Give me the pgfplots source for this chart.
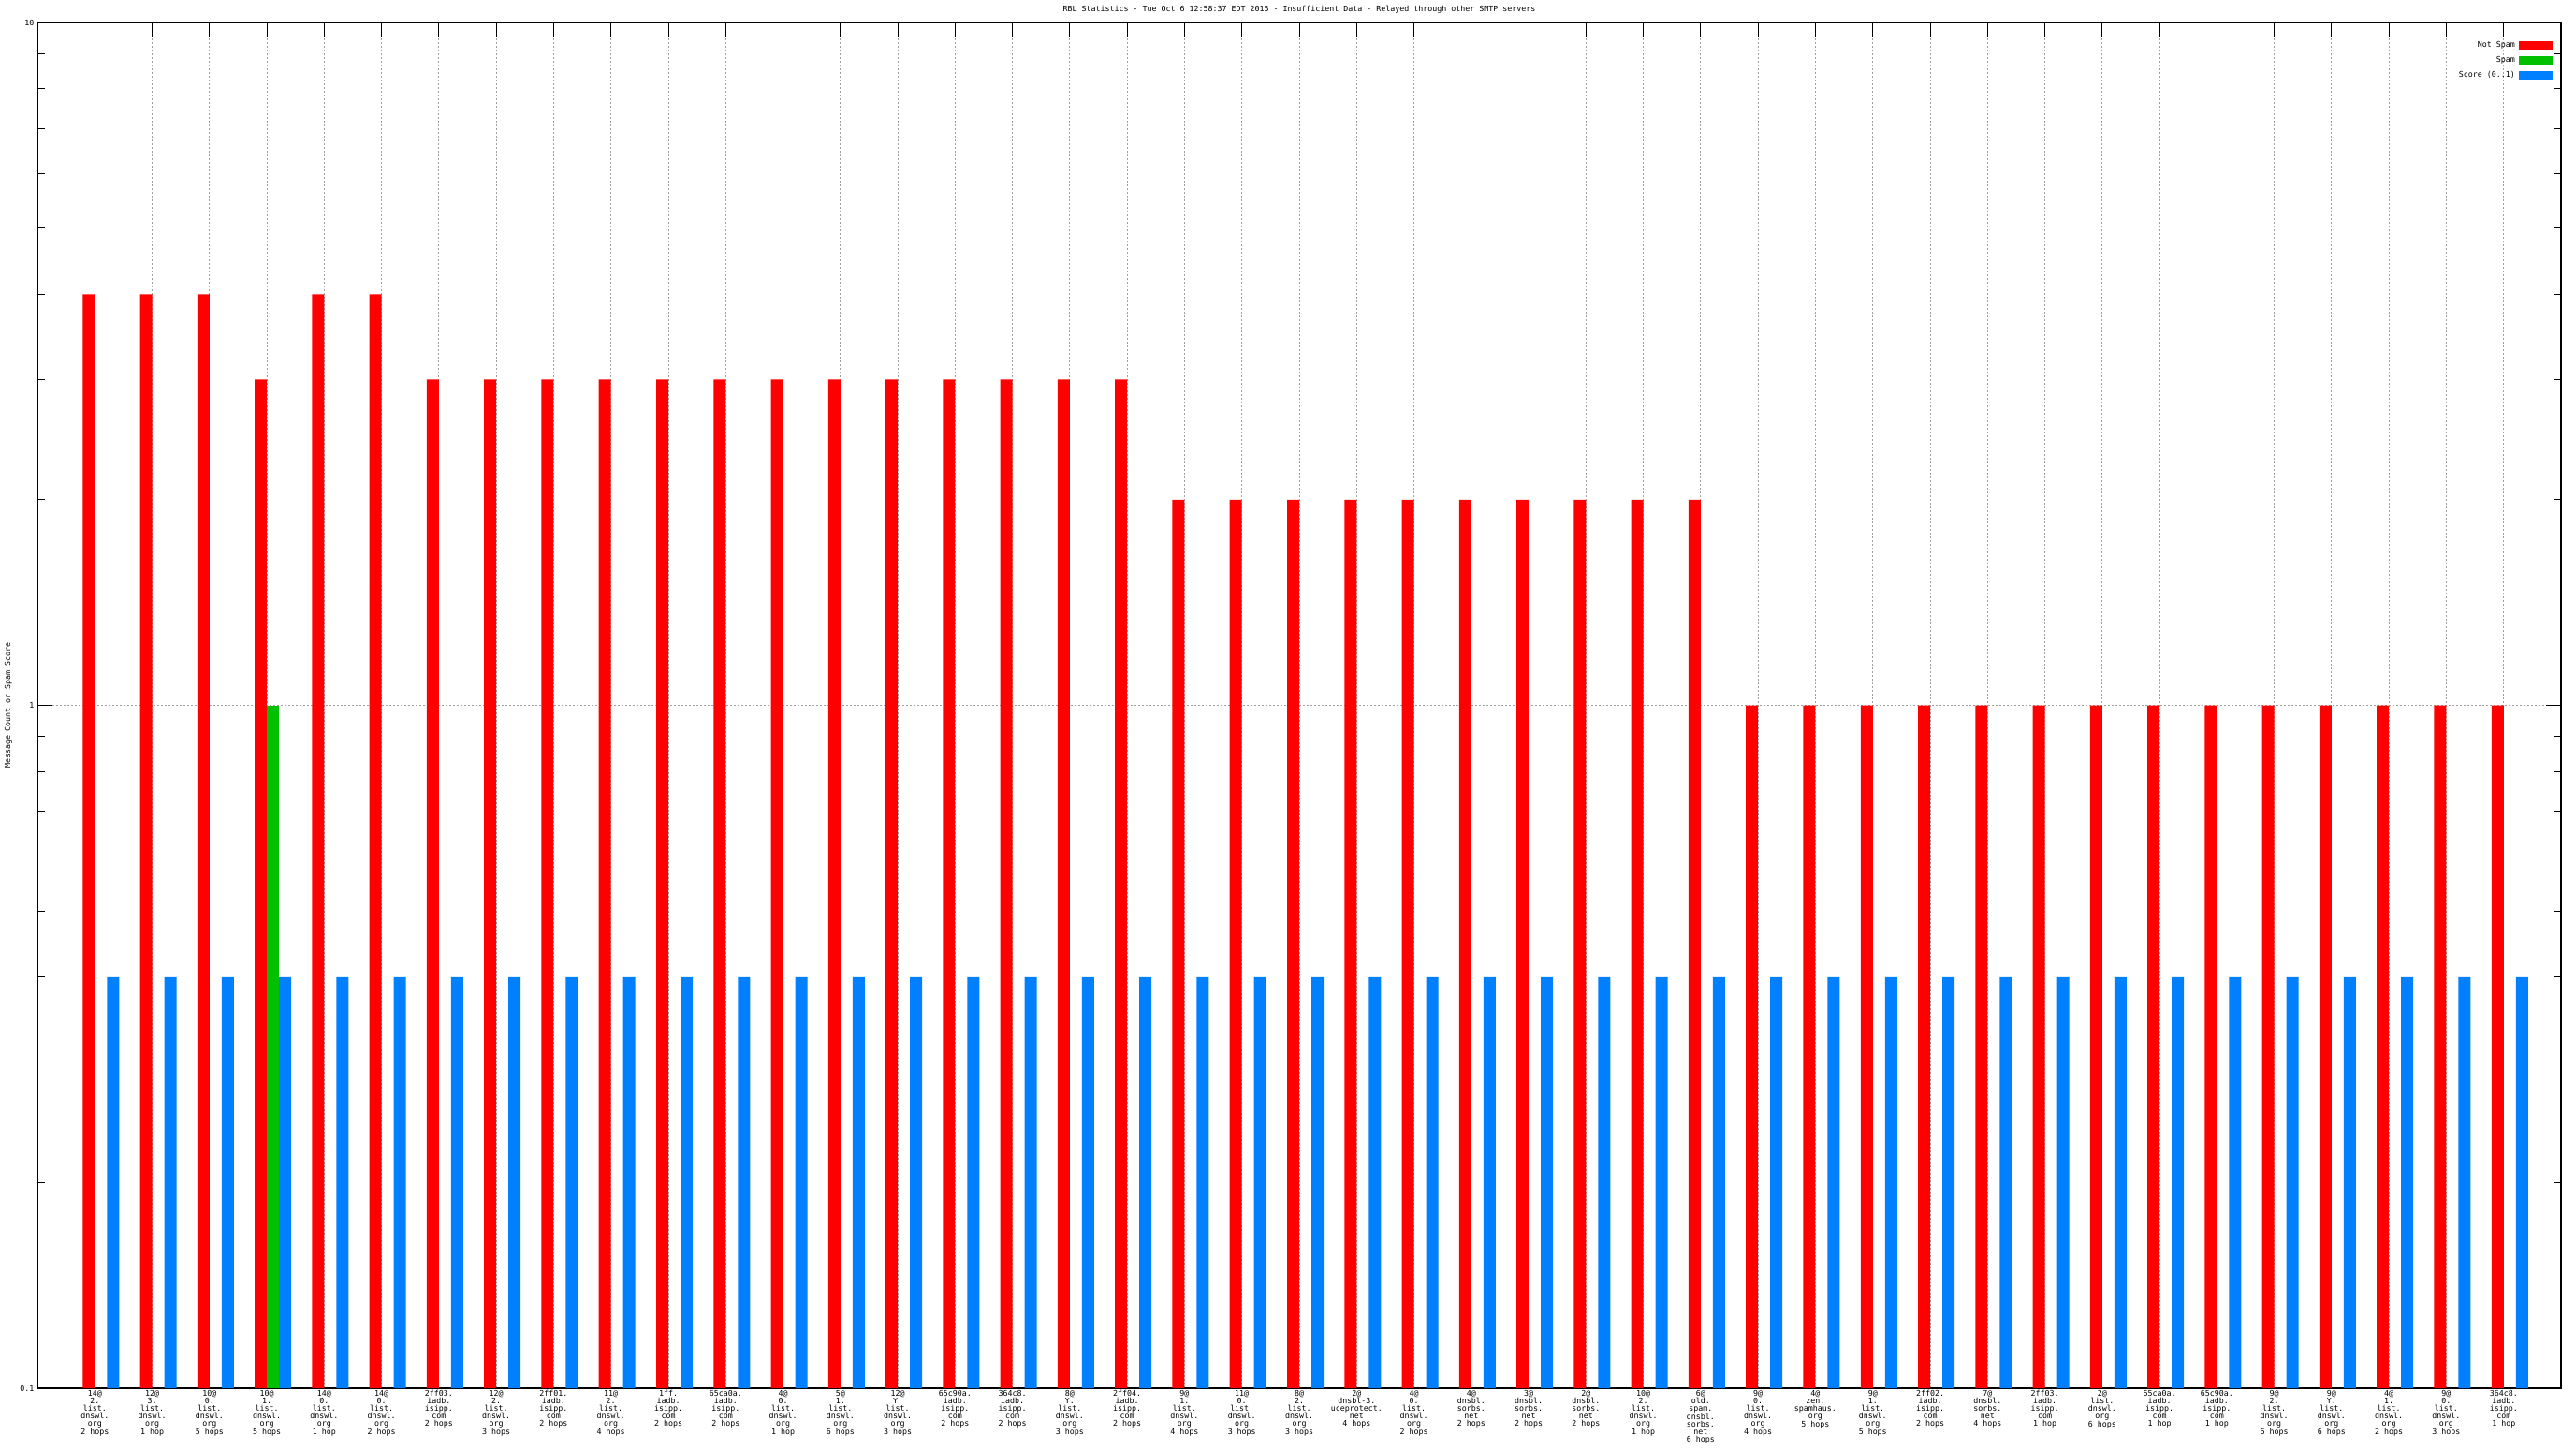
\documentclass[border=0pt]{standalone}
\usepackage{fontspec}
\setmainfont{DejaVu Sans Mono}
\usepackage{pgfplots}
\usepackage{pgfplotstable}
\pgfplotsset{compat=1.18}
\definecolor{nsred}{HTML}{FF0000}
\definecolor{spgreen}{HTML}{00C000}
\definecolor{scblue}{HTML}{0080FF}
\definecolor{gridgray}{HTML}{A0A0A0}
\newcommand{\gp}{\fontsize{8.3}{8}\selectfont}

% x = category index, ns = not spam count, sc = score (0..1)
\pgfplotstableread{
x ns sc
1 4 0.4
2 4 0.4
3 4 0.4
4 3 0.4
5 4 0.4
6 4 0.4
7 3 0.4
8 3 0.4
9 3 0.4
10 3 0.4
11 3 0.4
12 3 0.4
13 3 0.4
14 3 0.4
15 3 0.4
16 3 0.4
17 3 0.4
18 3 0.4
19 3 0.4
20 2 0.4
21 2 0.4
22 2 0.4
23 2 0.4
24 2 0.4
25 2 0.4
26 2 0.4
27 2 0.4
28 2 0.4
29 2 0.4
30 1 0.4
31 1 0.4
32 1 0.4
33 1 0.4
34 1 0.4
35 1 0.4
36 1 0.4
37 1 0.4
38 1 0.4
39 1 0.4
40 1 0.4
41 1 0.4
42 1 0.4
43 1 0.4
}\rbl

\begin{document}
\begin{tikzpicture}
\begin{axis}[
    scale only axis,
    width=2696pt, height=1459pt,
    ybar,
    bar width=13pt,
    ymode=log,
    log origin=infty,
    xmin=0, xmax=44,
    ymin=0.1, ymax=10,
    axis line style={line width=1.2pt},
    font=\gp,
    /pgf/number format/assume math mode=true,
    title={RBL Statistics - Tue Oct  6 12:58:37 EDT 2015 - Insufficient Data - Relayed through other SMTP servers},
    every axis title/.style={at={(axis description cs:0.5,1)}, anchor=center, yshift=13.5pt, font=\gp},
    ylabel={Message Count or Spam Score},
    every axis y label/.style={at={(axis description cs:-0.0115,0.5)}, rotate=90, anchor=center, font=\gp},
    ytick={0.1,1,10},
    yticklabels={0.1,1,10},
    minor ytick={0.2,0.3,0.4,0.5,0.6,0.7,0.8,0.9,2,3,4,5,6,7,8,9},
    xtick={1,...,43},
    xtick pos=right,
    xticklabel pos=left,
    xticklabels={
      {14@\\2.\\list.\\dnswl.\\org\\2 hops},
      {12@\\3.\\list.\\dnswl.\\org\\1 hop},
      {10@\\0.\\list.\\dnswl.\\org\\5 hops},
      {10@\\1.\\list.\\dnswl.\\org\\5 hops},
      {14@\\0.\\list.\\dnswl.\\org\\1 hop},
      {14@\\0.\\list.\\dnswl.\\org\\2 hops},
      {2ff03.\\iadb.\\isipp.\\com\\2 hops},
      {12@\\2.\\list.\\dnswl.\\org\\3 hops},
      {2ff01.\\iadb.\\isipp.\\com\\2 hops},
      {11@\\2.\\list.\\dnswl.\\org\\4 hops},
      {1ff.\\iadb.\\isipp.\\com\\2 hops},
      {65ca0a.\\iadb.\\isipp.\\com\\2 hops},
      {4@\\0.\\list.\\dnswl.\\org\\1 hop},
      {5@\\1.\\list.\\dnswl.\\org\\6 hops},
      {12@\\Y.\\list.\\dnswl.\\org\\3 hops},
      {65c90a.\\iadb.\\isipp.\\com\\2 hops},
      {364c8.\\iadb.\\isipp.\\com\\2 hops},
      {8@\\Y.\\list.\\dnswl.\\org\\3 hops},
      {2ff04.\\iadb.\\isipp.\\com\\2 hops},
      {9@\\1.\\list.\\dnswl.\\org\\4 hops},
      {11@\\0.\\list.\\dnswl.\\org\\3 hops},
      {8@\\2.\\list.\\dnswl.\\org\\3 hops},
      {2@\\dnsbl-3.\\uceprotect.\\net\\4 hops},
      {4@\\0.\\list.\\dnswl.\\org\\2 hops},
      {4@\\dnsbl.\\sorbs.\\net\\2 hops},
      {3@\\dnsbl.\\sorbs.\\net\\2 hops},
      {2@\\dnsbl.\\sorbs.\\net\\2 hops},
      {10@\\2.\\list.\\dnswl.\\org\\1 hop},
      {6@\\old.\\spam.\\dnsbl.\\sorbs.\\net\\6 hops},
      {9@\\0.\\list.\\dnswl.\\org\\4 hops},
      {4@\\zen.\\spamhaus.\\org\\5 hops},
      {9@\\1.\\list.\\dnswl.\\org\\5 hops},
      {2ff02.\\iadb.\\isipp.\\com\\2 hops},
      {7@\\dnsbl.\\sorbs.\\net\\4 hops},
      {2ff03.\\iadb.\\isipp.\\com\\1 hop},
      {2@\\list.\\dnswl.\\org\\6 hops},
      {65ca0a.\\iadb.\\isipp.\\com\\1 hop},
      {65c90a.\\iadb.\\isipp.\\com\\1 hop},
      {9@\\2.\\list.\\dnswl.\\org\\6 hops},
      {9@\\Y.\\list.\\dnswl.\\org\\6 hops},
      {4@\\1.\\list.\\dnswl.\\org\\2 hops},
      {9@\\0.\\list.\\dnswl.\\org\\3 hops},
      {364c8.\\iadb.\\isipp.\\com\\1 hop}
    },
    xticklabel style={align=center, font=\gp, inner sep=1pt, yshift=-1pt},
    yticklabel style={font=\gp},
    tick align=inside,
    major tick length=16pt,
    minor tick length=8pt,
    tick style={black, line width=1pt},
    xmajorgrids, ymajorgrids,
    major grid style={gridgray, line width=1pt, dash pattern=on 2pt off 2pt},
    legend style={at={(axis description cs:1,1)}, anchor=north east,
        xshift=-9pt, yshift=-18pt, draw=none, fill=none, inner sep=0pt,
        row sep=4.4pt, column sep=2pt, font=\gp},
    legend plot pos=right,
    legend cell align=right,
    legend image code/.code={\fill[#1] (0pt,-4.5pt) rectangle (36pt,4.5pt);},
]
\addplot[fill=nsred, draw=none, bar shift=-6.5pt] table[x=x, y=ns] {\rbl};
\addlegendentry{Not Spam}
\addplot[fill=spgreen, draw=none, bar shift=6.5pt] coordinates {(4,1)};
\addlegendentry{Spam}
\addplot[fill=scblue, draw=none, bar shift=19.5pt] table[x=x, y=sc] {\rbl};
\addlegendentry{Score (0..1)}
\end{axis}
\path ([xshift=-40pt,yshift=-65pt]current axis.south west) rectangle ([xshift=16pt,yshift=24pt]current axis.north east);
\end{tikzpicture}
\end{document}
